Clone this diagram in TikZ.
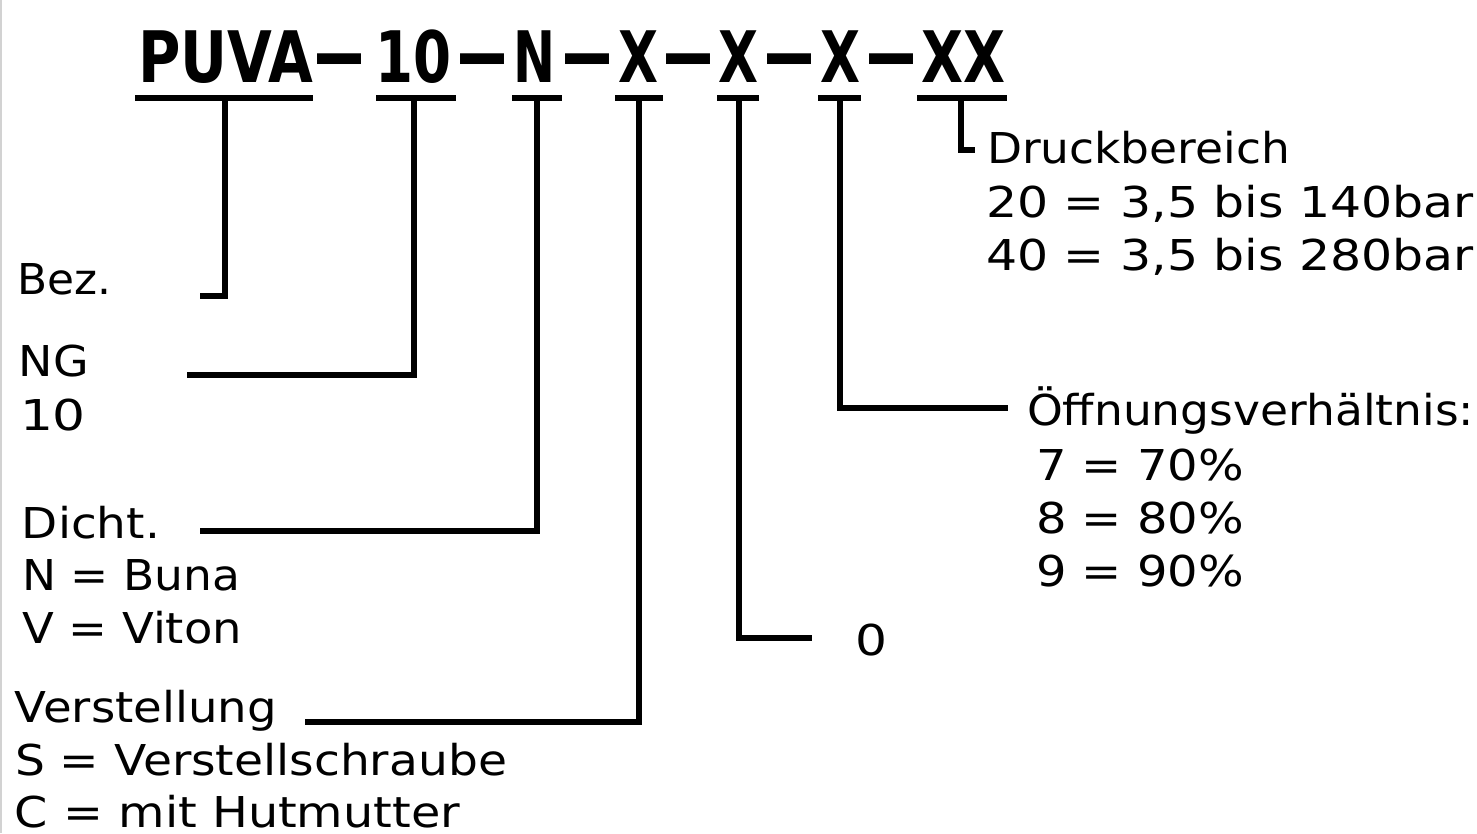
\documentclass[tikz,border=0pt]{standalone}
\usepackage{fontspec}
\setmainfont{DejaVu Sans}
\usepackage{graphicx}
\newcommand\wx[2]{\resizebox{#1pt}{\height}{#2}}
\newcommand\dsh{\resizebox{56pt}{1.2\height}{–}}
\begin{document}
\begin{tikzpicture}[x=1pt,y=-1pt,
  ttl/.style={anchor=base west,inner sep=0pt,outer sep=0pt,font=\bfseries\fontsize{71}{80}\selectfont},
  lbl/.style={anchor=base west,inner sep=0pt,outer sep=0pt,font=\fontsize{42.5}{50}\selectfont},
  wire/.style={line width=6.5pt}]
\useasboundingbox[fill=white] (0,0) rectangle (1477,833);
\draw[gray!35,line width=2pt] (1,0) -- (1,833);
% title
\node[ttl] (t1) at (138,82) {\wx{175}{PUVA}};
\node[ttl] (d1) at (311,82) {\dsh};
\node[ttl] (t2) at (375,82) {\wx{76}{10}};
\node[ttl] (d2) at (454,82) {\dsh};
\node[ttl] (t3) at (513,82) {\wx{42}{N}};
\node[ttl] (d3) at (559,82) {\dsh};
\node[ttl] (t4) at (618,82) {\wx{40}{X}};
\node[ttl] (d4) at (660,82) {\dsh};
\node[ttl] (t5) at (718,82) {\wx{40}{X}};
\node[ttl] (d5) at (761,82) {\dsh};
\node[ttl] (t6) at (820,82) {\wx{40}{X}};
\node[ttl] (d6) at (863,82) {\dsh};
\node[ttl] (t7) at (921,82) {\wx{84}{XX}};
% underlines
\coordinate (u1a) at (135,98); \coordinate (u1b) at (313,98);
\coordinate (u2a) at (376,98); \coordinate (u2b) at (456,98);
\coordinate (u3a) at (512,98); \coordinate (u3b) at (562,98);
\coordinate (u4a) at (615,98); \coordinate (u4b) at (663,98);
\coordinate (u5a) at (717,98); \coordinate (u5b) at (759,98);
\coordinate (u6a) at (818,98); \coordinate (u6b) at (861,98);
\coordinate (u7a) at (917,98); \coordinate (u7b) at (1007,98);
\foreach \i in {1,...,7} {\draw[line width=6pt] (u\i a) -- (u\i b);}
% labels
\node[lbl] (bez) at (17,294) {\wx{94}{Bez.}};
\node[lbl] (ng) at (19,376) {\wx{70}{NG}};
\node[lbl] (ng10) at (20,430) {\wx{66}{10}};
\node[lbl] (di) at (22,538) {\wx{138}{Dicht.}};
\node[lbl] (di1) at (22,590) {\wx{218}{N = Buna}};
\node[lbl] (di2) at (22,643) {\wx{220}{V = Viton}};
\node[lbl] (ve) at (15,722) {\wx{262}{Verstellung}};
\node[lbl] (ve1) at (15,775) {\wx{492}{S = Verstellschraube}};
\node[lbl] (ve2) at (15,827) {\wx{445}{C = mit Hutmutter}};
\node[lbl] (dr) at (987,163) {\wx{303}{Druckbereich}};
\node[lbl] (dr1) at (986,217) {\wx{488}{20 = 3,5 bis 140bar}};
\node[lbl] (dr2) at (986,270) {\wx{488}{40 = 3,5 bis 280bar}};
\node[lbl] (of) at (1027,425) {\wx{447}{Öffnungsverhältnis:}};
\node[lbl] (of1) at (1036,480) {\wx{208}{7 = 70\%}};
\node[lbl] (of2) at (1036,533) {\wx{208}{8 = 80\%}};
\node[lbl] (of3) at (1036,586) {\wx{208}{9 = 90\%}};
\node[lbl] (zero) at (855,655) {\wx{32}{0}};
% connectors
\coordinate (a1) at (225,98);  \coordinate (b1) at (200,296);
\coordinate (a2) at (414,98);  \coordinate (b2) at (187,375);
\coordinate (a3) at (537,98);  \coordinate (b3) at (200,531);
\coordinate (a4) at (639,98);  \coordinate (b4) at (305,722);
\coordinate (a5) at (739,98);  \coordinate (b5) at (812,638);
\coordinate (a6) at (840,98);  \coordinate (b6) at (1008,408);
\coordinate (a7) at (961,98);  \coordinate (b7) at (975,150);
\foreach \i in {1,...,7} {\draw[wire] (a\i) |- (b\i);}
\end{tikzpicture}
\end{document}
